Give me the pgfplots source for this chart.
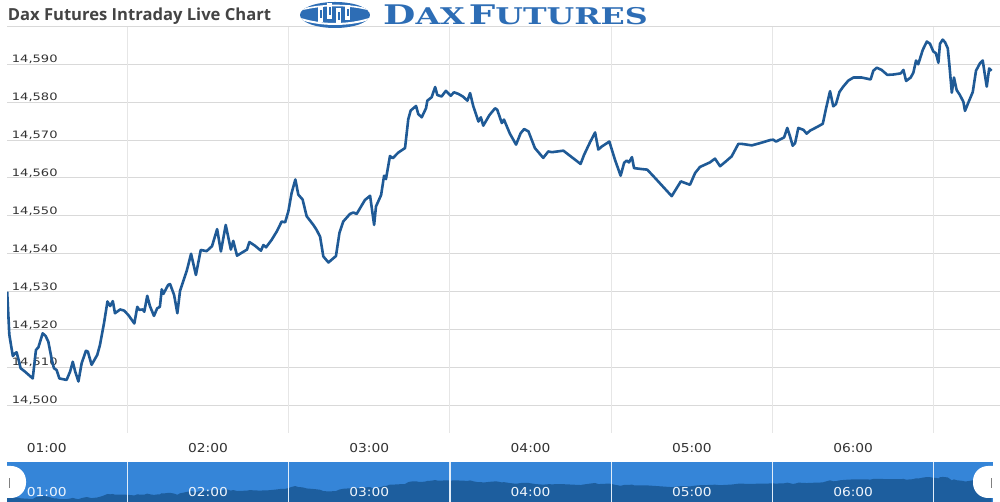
\documentclass[border=0pt]{standalone}
\usepackage{graphicx}
\usepackage{pgfplots}
\pgfplotsset{compat=1.18}
\usepackage{pgfplotstable}
\usepackage{fontspec}
\setmainfont{DejaVu Sans}
\newfontfamily\titlefont{Open Sans}
\newfontfamily\logofont{DejaVu Serif}
\definecolor{linec}{HTML}{1F5A96}
\definecolor{hgrid}{HTML}{D9D9D9}
\definecolor{vgrid}{HTML}{E6E6E6}
\definecolor{navlight}{HTML}{3585D8}
\definecolor{navdark}{HTML}{1D5E9E}
\definecolor{tickgray}{HTML}{333333}
\definecolor{titlegray}{HTML}{444444}
\definecolor{logoblue}{HTML}{2D6DB5}
\newcommand\yl[1]{\scalebox{1.28}[1]{#1}}
\newcommand\xl[1]{\scalebox{1.12}[1]{#1}}
\pgfplotstableread{
m v
45.3 14530
46.1 14518.6
47.4 14513.0
48.2 14513.7
48.8 14514.0
49.4 14512.4
50.3 14509.8
51.9 14508.9
54.8 14507.1
56.0 14514.6
56.9 14515.3
58.5 14519.0
59.6 14518.3
60.6 14516.8
61.9 14512.0
62.7 14509.8
63.7 14509.3
64.7 14507.1
67.4 14506.7
68.7 14508.9
69.7 14511.5
70.6 14508.9
71.8 14506.3
73.0 14511.1
74.6 14514.4
75.3 14514.2
76.7 14510.7
78.8 14513.3
79.8 14515.9
81.3 14521.6
82.6 14527.4
83.6 14526.2
84.6 14527.5
85.4 14524.3
87.3 14525.3
88.8 14525.0
90.4 14523.8
92.6 14521.6
93.7 14526.0
94.4 14525.2
95.7 14525.3
96.3 14524.7
97.4 14528.9
98.4 14526.2
99.9 14523.6
101.1 14525.6
102.1 14526.0
102.8 14530.6
103.4 14529.4
105.2 14531.8
105.9 14532.0
107.4 14529.1
108.6 14524.3
109.6 14530.2
112.1 14535.5
113.7 14540.0
115.5 14534.4
117.3 14541.0
119.5 14540.7
121.5 14542.0
123.4 14546.5
124.8 14540.6
126.6 14547.6
128.5 14541.1
129.4 14543.4
130.8 14539.5
134.5 14541.1
135.4 14543.1
137.5 14542.1
139.7 14540.8
140.6 14542.3
141.6 14541.7
143.7 14543.7
145.6 14545.9
147.4 14548.5
148.7 14548.3
149.9 14551.2
151.1 14556.0
152.5 14559.6
153.6 14555.6
155.2 14554.3
156.7 14549.9
159.2 14547.6
160.4 14546.3
161.7 14544.5
162.9 14539.3
164.8 14537.7
167.6 14539.4
168.9 14545.5
170.3 14548.5
172.8 14550.5
174.1 14550.9
175.3 14550.5
176.8 14552.3
178.4 14554.2
180.3 14555.3
181.8 14547.6
182.5 14552.5
184.4 14555.5
185.5 14560.6
186.2 14559.7
187.7 14565.8
188.7 14565.2
190.8 14566.7
193.3 14567.9
194.5 14575.5
195.4 14577.8
197.4 14579.0
198.2 14576.9
199.5 14576.0
201.1 14578.4
201.6 14580.4
203.2 14581.3
204.5 14584.0
205.3 14581.9
206.9 14581.5
208.5 14583.0
210.3 14581.7
211.5 14582.6
213.1 14582.2
214.8 14581.5
216.5 14580.4
217.5 14582.4
218.7 14578.9
220.6 14574.9
221.5 14576.0
222.4 14573.8
224.7 14576.6
226.8 14578.4
227.6 14578.0
229.3 14574.5
230.1 14575.4
232.3 14571.7
234.6 14568.8
236.3 14571.8
237.6 14572.9
239.2 14572.3
241.6 14567.9
244.7 14565.3
246.6 14567.0
247.9 14566.8
252.2 14567.2
258.6 14563.7
259.9 14566.1
262.1 14569.4
264.0 14572.0
265.2 14567.5
266.5 14568.3
269.3 14569.6
271.4 14564.8
273.5 14560.6
274.8 14564.0
275.8 14564.6
276.6 14564.1
277.7 14565.5
278.5 14562.6
281.9 14562.3
283.4 14562.2
286.3 14560.0
292.5 14555.2
295.9 14559.1
297.4 14558.7
299.3 14558.2
301.2 14561.3
303.0 14562.9
306.7 14564.1
308.6 14565.1
310.5 14563.1
312.7 14564.4
314.8 14565.7
317.3 14569.0
318.5 14569.0
322.3 14568.6
325.4 14569.2
329.1 14570.0
330.3 14570.1
331.3 14569.6
334.3 14570.7
335.5 14573.2
336.5 14571.0
337.5 14568.5
338.4 14569.2
339.6 14573.2
341.5 14572.7
342.7 14571.7
344.0 14572.5
346.7 14573.5
348.7 14574.3
349.9 14578.3
351.4 14582.9
352.6 14578.9
353.6 14579.5
354.9 14582.7
356.3 14584.1
358.2 14585.7
360.1 14586.5
363.2 14586.5
366.5 14586.0
367.5 14588.3
368.8 14589.1
370.6 14588.5
372.7 14587.2
375.0 14587.3
377.7 14587.6
378.7 14588.5
379.7 14585.6
381.4 14586.5
382.4 14587.8
383.4 14591.0
384.2 14590.0
385.9 14593.8
387.4 14596.0
388.6 14595.4
389.8 14593.4
390.8 14592.9
391.7 14590.4
392.3 14595.4
393.3 14596.5
394.2 14595.8
395.2 14594.2
395.8 14589.8
396.7 14582.5
397.5 14586.5
398.5 14583.2
399.7 14581.9
401.0 14580.1
401.6 14577.7
402.8 14579.8
404.5 14582.7
405.7 14588.3
407.2 14590.3
408.2 14591.0
409.0 14587.2
409.7 14584.1
410.6 14588.9
411.5 14588.3
}\dax
\begin{document}
\begin{tikzpicture}[x=1pt,y=1pt]
\clip (0,0) rectangle (1000,502);
\fill[white] (0,0) rectangle (1000,502);
% main chart
\begin{axis}[
  at={(7pt,69pt)}, anchor=south west,
  width=993pt, height=406pt, scale only axis,
  xmin=45.23, xmax=414.63, ymin=14492.7, ymax=14599.84,
  scaled y ticks=false, scaled x ticks=false,
  axis line style={draw=none},
  major tick length=0pt,
  xtick={60,120,180,240,300,360},
  xticklabels={\xl{01:00},\xl{02:00},\xl{03:00},\xl{04:00},\xl{05:00},\xl{06:00}},
  extra x ticks={90,150,210,270,330,390},
  extra x tick labels={,,,,,},
  extra x tick style={grid=major, major grid style={color=vgrid, line width=1pt}},
  ytick={14500,14510,14520,14530,14540,14550,14560,14570,14580,14590},
  yticklabels={\yl{14,500},\yl{14,510},\yl{14,520},\yl{14,530},\yl{14,540},\yl{14,550},\yl{14,560},\yl{14,570},\yl{14,580},\yl{14,590}},
  ymajorgrids, major grid style={color=hgrid, line width=1pt},
  yticklabel style={anchor=base west, inner sep=0pt, xshift=4.7pt, yshift=1.5pt, text=tickgray, font=\fontsize{10.2}{12}\selectfont},
  xticklabel style={anchor=base, inner sep=0pt, yshift=-19.3pt, text=tickgray, font=\fontsize{12.3}{14}\selectfont},
]
\addplot[linec, line width=2.6pt, line join=round] table[x=m,y=v]{\dax};
\draw[hgrid, line width=1pt] (rel axis cs:0,1) -- (rel axis cs:1,1);
\end{axis}
% navigator
\begin{axis}[
  at={(7pt,0pt)}, anchor=south west,
  width=986pt, height=40pt, scale only axis,
  xmin=45.23, xmax=412.03, ymin=14495, ymax=14657,
  scaled y ticks=false, scaled x ticks=false,
  axis background/.style={fill=navlight},
  axis on top,
  axis line style={draw=none},
  major tick length=0pt,
  ytick=\empty,
  xtick={60,120,180,240,300,360},
  xticklabels={\xl{01:00},\xl{02:00},\xl{03:00},\xl{04:00},\xl{05:00},\xl{06:00}},
  extra x ticks={90,150,210,270,330,390},
  extra x tick labels={,,,,,},
  extra x tick style={grid=major, major grid style={color=white!85!navlight, line width=1.2pt}},
  xticklabel style={anchor=base, inner sep=0pt, yshift=5.3pt, text=white!92!navlight, font=\fontsize{12.3}{14}\selectfont},
]
\addplot[fill=navdark, draw=none] table[x=m,y=v]{\dax} \closedcycle;
\end{axis}
% handles
\fill[white, rounded corners=15pt] (-12,4) rectangle (26,36);
\draw[gray, line width=0.8pt] (9.5,14) -- (9.5,24);
\fill[white, rounded corners=15pt] (973,4) rectangle (1012,36);
\draw[gray, line width=0.8pt] (991.5,14) -- (991.5,24);
% title
\node[anchor=base west, inner sep=0pt, text=titlegray] at (7.6,481) {\titlefont\bfseries\fontsize{16.6}{18}\selectfont Dax Futures Intraday Live Chart};
% logo globe
\begin{scope}
\clip (335,487) ellipse [x radius=35, y radius=13];
\fill[logoblue] (335,487) ellipse [x radius=35, y radius=13];
\draw[white, line width=2pt] (298,484) .. controls (320,476) and (350,476) .. (372,484);
\draw[white, line width=1.6pt] (300,492) .. controls (322,498) and (350,498) .. (370,492);
\fill[white] (318,480) rectangle (323,496);
\fill[white] (327,483) rectangle (332,499);
\fill[white] (336,478) rectangle (341,494);
\fill[white] (345,482) rectangle (350,497);
\fill[logoblue] (319.5,484) rectangle (321.5,492);
\fill[logoblue] (328.5,487) rectangle (330.5,495);
\fill[logoblue] (337.5,482) rectangle (339.5,490);
\fill[logoblue] (346.5,486) rectangle (348.5,493);
\end{scope}
\node[anchor=base west, inner sep=0pt, text=logoblue] at (383,477.6) {\scalebox{1.38}[1]{\logofont\bfseries\fontsize{27}{27}\selectfont D\fontsize{23}{23}\selectfont AX\hspace{3pt}\fontsize{27}{27}\selectfont F\fontsize{23}{23}\selectfont UTURES}};
\end{tikzpicture}
\end{document}
